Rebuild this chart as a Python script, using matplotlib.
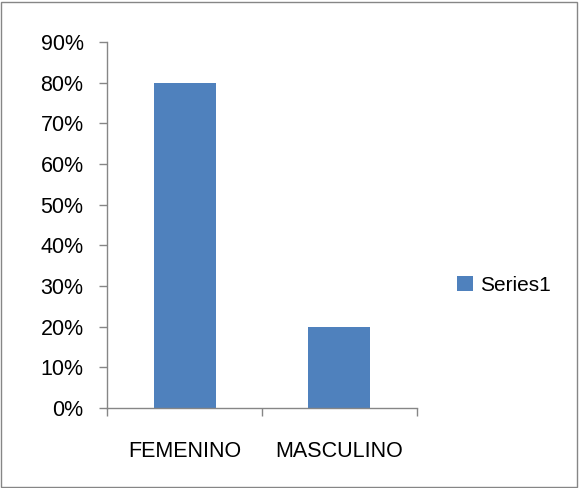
import matplotlib.pyplot as plt
from matplotlib.patches import Rectangle
from matplotlib.ticker import PercentFormatter

categories = ["FEMENINO", "MASCULINO"]
values = [0.80, 0.20]
series_name = "Series1"

plt.rcParams['font.family'] = ['Liberation Sans', 'DejaVu Sans']

fig = plt.figure(figsize=(5.79, 4.88), dpi=100)
ax = fig.add_axes([0.185, 0.164, 0.535, 0.750])

x = list(range(len(categories)))
ax.bar(x, values, width=0.4, color='#4F81BD', label=series_name)

ax.set_xlim(-0.5, len(categories) - 0.5)
ax.set_ylim(0, 0.9)
ax.set_yticks([i / 10 for i in range(10)])
ax.yaxis.set_major_formatter(PercentFormatter(1.0, decimals=0))
ax.set_xticks([-0.5, 0.5, 1.5])
ax.set_xticklabels([])
ax.set_xticks(x, minor=True)
ax.set_xticklabels(categories, minor=True)
ax.tick_params(axis='x', which='minor', length=0, pad=24, labelsize=15.5)
ax.tick_params(axis='x', which='major', length=6, color='#868686', width=1)
ax.tick_params(axis='y', length=6, color='#868686', width=1, labelsize=15.5, pad=11)

for side in ['top', 'right']:
    ax.spines[side].set_visible(False)
for side in ['left', 'bottom']:
    ax.spines[side].set_color('#868686')
    ax.spines[side].set_linewidth(1)

ax.legend(loc='center left', bbox_to_anchor=(1.07, 0.335), frameon=False,
          fontsize=15, handlelength=0.75, handleheight=0.75, handletextpad=0.35)

fig.patches.append(Rectangle((0.002, 0.003), 0.995, 0.993, transform=fig.transFigure,
                             fill=False, edgecolor='#868686', linewidth=1))

fig.savefig('out.png', dpi=100)
